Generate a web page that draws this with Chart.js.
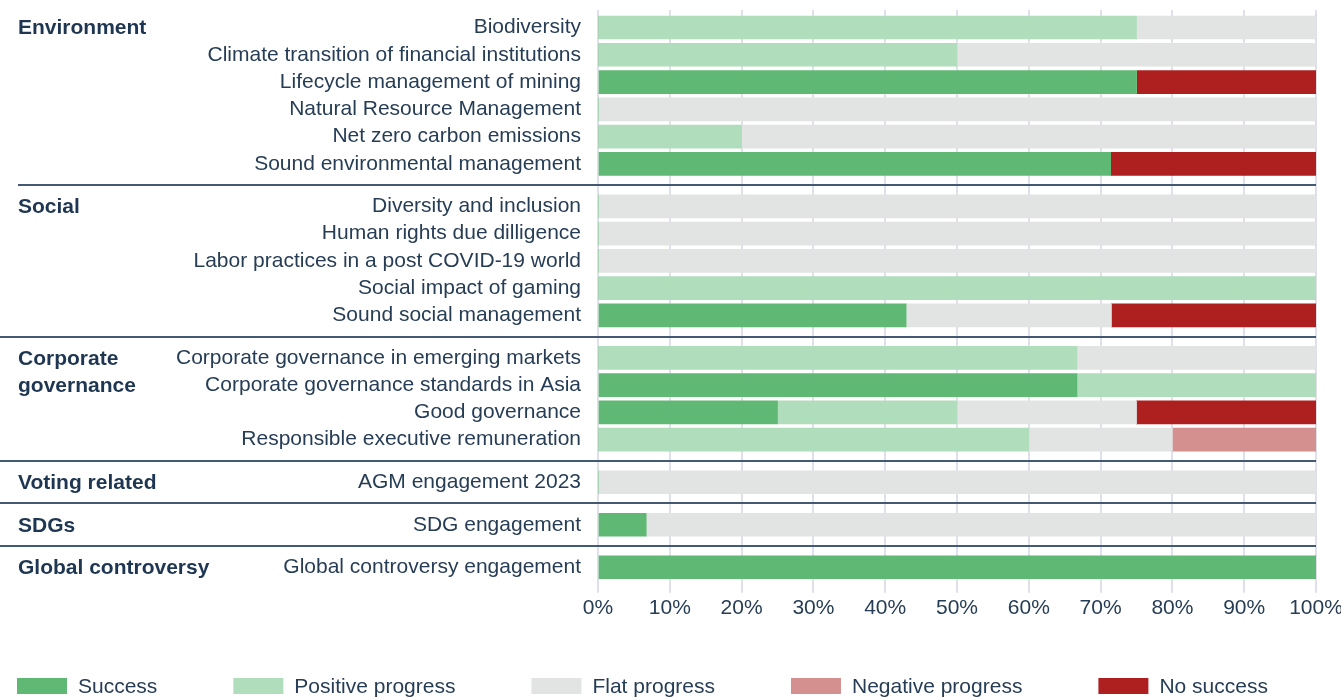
<!DOCTYPE html>
<html>
<head>
<meta charset="utf-8">
<script src="https://cdn.jsdelivr.net/npm/chart.js@4"></script>
<style>
  body { margin: 0; background: #fff; }
  #wrap { width: 1341px; height: 697px; }
</style>
</head>
<body>
<div id="wrap"><canvas id="myChart"></canvas></div>
<script>
// rows, grouped by theme
var categories = [
    'Biodiversity',
    'Climate transition of financial institutions',
    'Lifecycle management of mining',
    'Natural Resource Management',
    'Net zero carbon emissions',
    'Sound environmental management',
    'Diversity and inclusion',
    'Human rights due dilligence',
    'Labor practices in a post COVID-19 world',
    'Social impact of gaming',
    'Sound social management',
    'Corporate governance in emerging markets',
    'Corporate governance standards in Asia',
    'Good governance',
    'Responsible executive remuneration',
    'AGM engagement 2023',
    'SDG engagement',
    'Global controversy engagement'
];
var groupNames = ['Environment', 'Social', ['Corporate', 'governance'], 'Voting related', 'SDGs', 'Global controversy'];
var groupSizes = [6, 5, 4, 1, 1, 1];

// shares in %
var success   = [0, 0, 75, 0, 0, 71.4, 0, 0, 0, 0, 42.9, 0, 66.7, 25, 0, 0, 6.7, 100];
var positive  = [75, 50, 0, 0, 20, 0, 0, 0, 0, 100, 0, 66.7, 33.3, 25, 60, 0, 0, 0];
var flat      = [25, 50, 0, 100, 80, 0, 100, 100, 100, 0, 28.6, 33.3, 0, 25, 20, 100, 93.3, 0];
var negative  = [0, 0, 0, 0, 0, 0, 0, 0, 0, 0, 0, 0, 0, 0, 20, 0, 0, 0];
var noSuccess = [0, 0, 25, 0, 0, 28.6, 0, 0, 0, 0, 28.6, 0, 0, 25, 0, 0, 0, 0];

var xTicks = [0, 10, 20, 30, 40, 50, 60, 70, 80, 90, 100];

var textColor = '#263d55';
var font = '"Liberation Sans", Arial, sans-serif';

// slot of each row on the y axis, with a wider step between groups
var rowPos = [];
var groupStart = [];
var p = 0;
groupSizes.forEach(function (n, g) {
    groupStart.push(rowPos.length);
    for (var k = 0; k < n; k++) {
        rowPos.push(p);
        p += 1;
    }
    p += 0.56;
});
var lastPos = rowPos[rowPos.length - 1];

function series(values) {
    return values.map(function (v, i) { return { x: v, y: rowPos[i] }; });
}

var groupPlugin = {
    id: 'groups',
    afterDatasetsDraw: function (chart) {
        var ctx = chart.ctx;
        var y = chart.scales.y;
        var right = chart.chartArea.right;
        ctx.save();
        // separators
        ctx.strokeStyle = '#425a74';
        ctx.lineWidth = 2;
        for (var g = 1; g < groupStart.length; g++) {
            var a = rowPos[groupStart[g] - 1], b = rowPos[groupStart[g]];
            var py = Math.round(y.getPixelForValue((a + b) / 2));
            ctx.beginPath();
            ctx.moveTo(g === 1 ? 18 : 0, py);
            ctx.lineTo(right, py);
            ctx.stroke();
        }
        // group names
        ctx.fillStyle = '#1e3651';
        ctx.font = 'bold 21px ' + font;
        ctx.textAlign = 'left';
        ctx.textBaseline = 'middle';
        groupNames.forEach(function (name, g) {
            var lines = Array.isArray(name) ? name : [name];
            lines.forEach(function (line, k) {
                ctx.fillText(line, 18, y.getPixelForValue(rowPos[groupStart[g] + k]) + 1);
            });
        });
        ctx.restore();
    }
};

var legendPlugin = {
    id: 'bottomLegend',
    afterDraw: function (chart) {
        var ctx = chart.ctx;
        var cy = chart.height - 11;
        var x = 17;
        ctx.save();
        ctx.font = '21px ' + font;
        ctx.textBaseline = 'middle';
        ctx.textAlign = 'left';
        chart.data.datasets.forEach(function (ds) {
            ctx.fillStyle = ds.backgroundColor;
            ctx.fillRect(x, cy - 8, 50, 16);
            ctx.fillStyle = textColor;
            ctx.fillText(ds.label, x + 61, cy + 1);
            x += 61 + ctx.measureText(ds.label).width + 76;
        });
        ctx.restore();
    }
};

var ctx = document.getElementById('myChart').getContext('2d');
var myChart = new Chart(ctx, {
    type: 'bar',
    data: {
        datasets: [
            { label: 'Success', data: series(success), backgroundColor: '#5fb873' },
            { label: 'Positive progress', data: series(positive), backgroundColor: '#b0ddbc' },
            { label: 'Flat progress', data: series(flat), backgroundColor: '#e2e3e3' },
            { label: 'Negative progress', data: series(negative), backgroundColor: '#d48f8f' },
            { label: 'No success', data: series(noSuccess), backgroundColor: '#ae1f20' }
        ]
    },
    options: {
        indexAxis: 'y',
        responsive: true,
        maintainAspectRatio: false,
        animation: false,
        barThickness: 23,
        layout: { padding: { top: 10, right: 25, bottom: 73, left: 0 } },
        plugins: {
            legend: { display: false },
            tooltip: { enabled: false }
        },
        scales: {
            x: {
                type: 'linear',
                stacked: true,
                min: 0,
                max: 100,
                afterBuildTicks: function (scale) {
                    scale.ticks = xTicks.map(function (v) { return { value: v }; });
                },
                afterFit: function (scale) {
                    scale.paddingLeft = 0;
                    scale.paddingRight = 0;
                },
                ticks: {
                    color: textColor,
                    font: { family: font, size: 21 },
                    padding: 3,
                    maxRotation: 0,
                    callback: function (v) { return v + '%'; }
                },
                grid: { color: '#dfe0ea', lineWidth: 2, tickLength: 8 },
                border: { display: false }
            },
            y: {
                type: 'linear',
                stacked: true,
                reverse: true,
                offset: false,
                min: -0.643,
                max: lastPos + 0.643,
                afterBuildTicks: function (scale) {
                    scale.ticks = rowPos.map(function (v) { return { value: v }; });
                },
                afterFit: function (scale) {
                    scale.width = 598;
                    scale.paddingTop = 0;
                    scale.paddingBottom = 0;
                },
                ticks: {
                    color: textColor,
                    font: { family: font, size: 21 },
                    padding: 17,
                    autoSkip: false,
                    callback: function (v, i) { return categories[i]; }
                },
                grid: { display: false, drawTicks: false, offset: false },
                border: { display: false }
            }
        }
    },
    plugins: [groupPlugin, legendPlugin]
});
</script>
</body>
</html>
